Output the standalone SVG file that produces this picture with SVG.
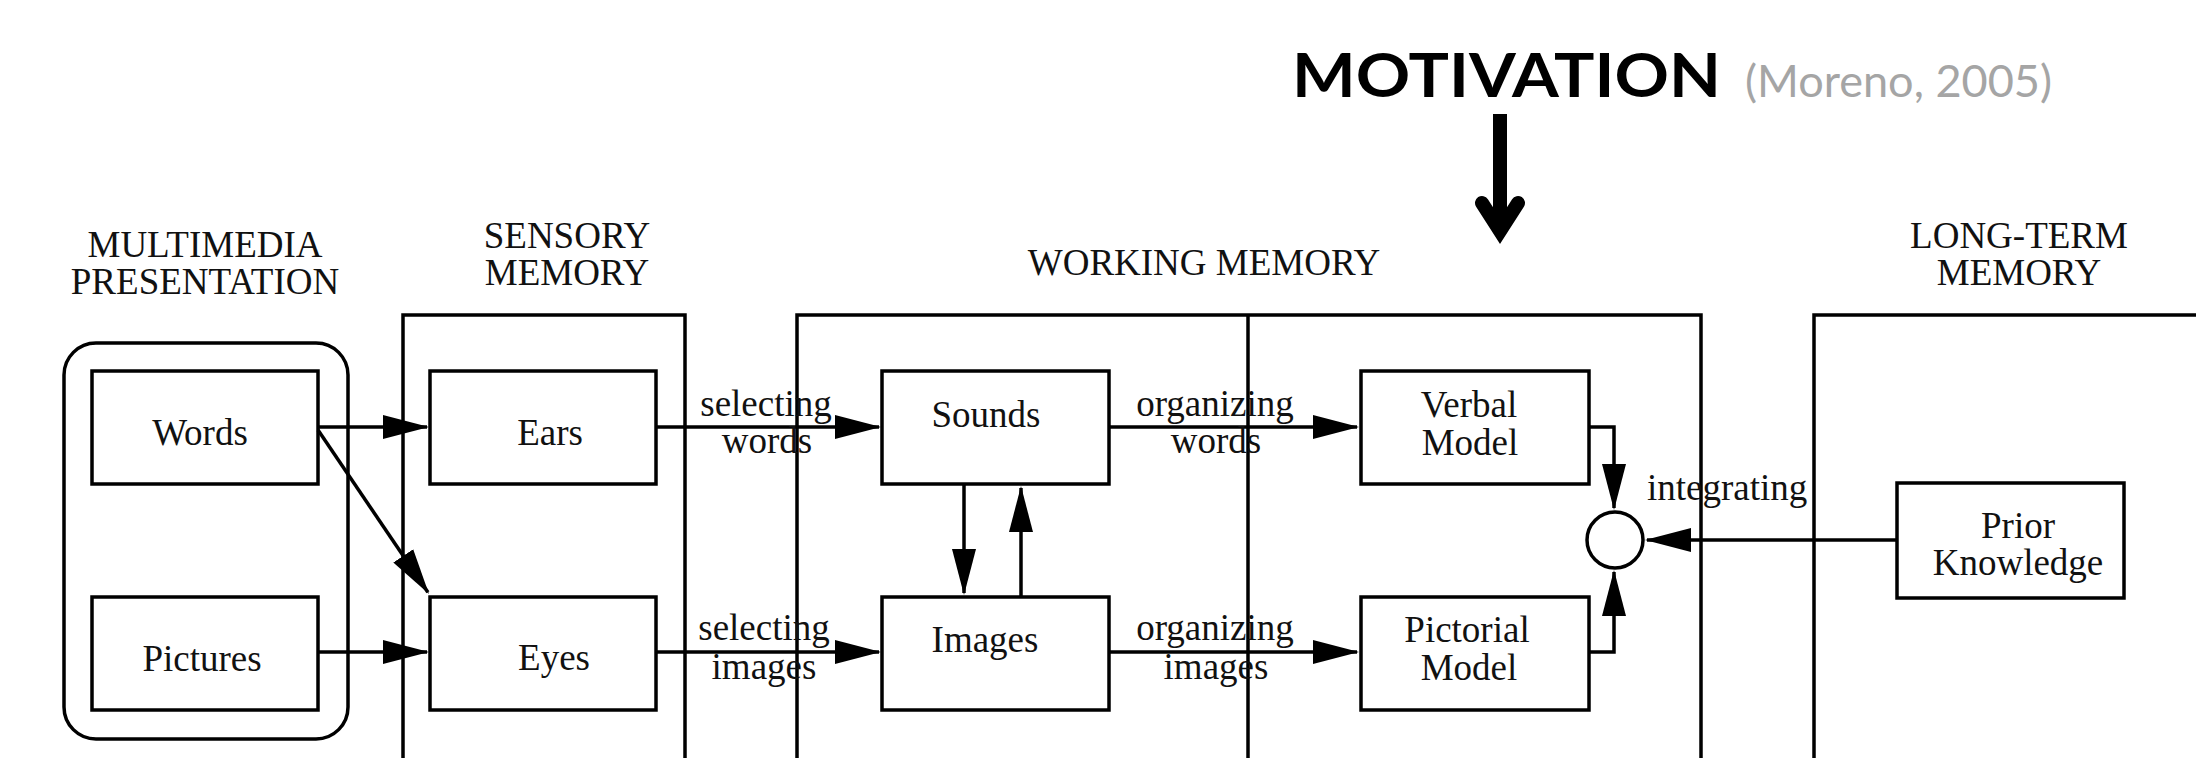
<svg xmlns="http://www.w3.org/2000/svg" width="2196" height="758" viewBox="0 0 2196 758">
  <style>
    .frame { fill: none; stroke: #000; stroke-width: 3.5; }
    .box { fill: none; stroke: #000; stroke-width: 3.5; }
    .conn { fill: none; stroke: #000; stroke-width: 3.5; }
    .lbl { font-family: "Liberation Serif", "Times New Roman", serif; font-size: 37px; fill: #111; text-anchor: middle; }
    .lbl-start { font-family: "Liberation Serif", "Times New Roman", serif; font-size: 37px; fill: #111; }
    .title { font-family: Lato, "Open Sans", "Liberation Sans", sans-serif; font-weight: 700; font-size: 61px; fill: #000; }
    .cite { font-family: Lato, "Open Sans", "Liberation Sans", sans-serif; font-size: 44px; fill: #a5a5a5; }
  </style>
  <defs>
    <marker id="ah" markerUnits="userSpaceOnUse" markerWidth="46" markerHeight="26" viewBox="0 0 46 26" refX="44" refY="13" orient="auto">
      <path d="M0,1 L46,13 L0,25 z" fill="#000"/>
    </marker>
  </defs>

  <rect width="2196" height="758" fill="#fff"/>

  <!-- motivation banner with its downward arrow -->
  <g id="motivation">
    <text class="title" x="1292" y="97" textLength="429" lengthAdjust="spacingAndGlyphs">MOTIVATION</text>
    <text class="cite" x="1745" y="97" textLength="307" lengthAdjust="spacingAndGlyphs">(Moreno, 2005)</text>
    <line x1="1500" y1="114" x2="1500" y2="232" stroke="#000" stroke-width="14"/>
    <polyline points="1482,203 1500,231 1518,203" fill="none" stroke="#000" stroke-width="14" stroke-linecap="round" stroke-linejoin="miter" stroke-miterlimit="10"/>
  </g>

  <!-- memory stores -->
  <g id="multimedia-presentation">
    <text class="lbl" x="205" y="257">MULTIMEDIA</text>
    <text class="lbl" x="205" y="294">PRESENTATION</text>
    <rect class="box" x="64" y="343" width="284" height="396" rx="32" ry="32"/>
  </g>
  <g id="sensory-memory">
    <text class="lbl" x="567" y="248">SENSORY</text>
    <text class="lbl" x="567" y="285">MEMORY</text>
    <path class="frame" d="M403,770 V315 H685 V770"/>
  </g>
  <g id="working-memory">
    <text class="lbl" x="1204" y="275">WORKING MEMORY</text>
    <path class="frame" d="M797,770 V315 H1701 V770"/>
    <path class="frame" d="M1248,315 V770"/>
  </g>
  <g id="long-term-memory">
    <text class="lbl" x="2019" y="248">LONG-TERM</text>
    <text class="lbl" x="2019" y="285">MEMORY</text>
    <path class="frame" d="M1814,770 V315 H2210"/>
  </g>

  <!-- nodes -->
  <g id="words">
    <rect class="box" x="92" y="371" width="226" height="113"/>
    <text class="lbl" x="200" y="445">Words</text>
  </g>
  <g id="pictures">
    <rect class="box" x="92" y="597" width="226" height="113"/>
    <text class="lbl" x="202" y="671">Pictures</text>
  </g>
  <g id="ears">
    <rect class="box" x="430" y="371" width="226" height="113"/>
    <text class="lbl" x="550" y="445">Ears</text>
  </g>
  <g id="eyes">
    <rect class="box" x="430" y="597" width="226" height="113"/>
    <text class="lbl" x="554" y="670">Eyes</text>
  </g>
  <g id="sounds">
    <rect class="box" x="882" y="371" width="227" height="113"/>
    <text class="lbl" x="986" y="427">Sounds</text>
  </g>
  <g id="images">
    <rect class="box" x="882" y="597" width="227" height="113"/>
    <text class="lbl" x="985" y="652">Images</text>
  </g>
  <g id="verbal-model">
    <rect class="box" x="1361" y="371" width="228" height="113"/>
    <text class="lbl" x="1469" y="417">Verbal</text>
    <text class="lbl" x="1470" y="455">Model</text>
  </g>
  <g id="pictorial-model">
    <rect class="box" x="1361" y="597" width="228" height="113"/>
    <text class="lbl" x="1467" y="642">Pictorial</text>
    <text class="lbl" x="1469" y="680">Model</text>
  </g>
  <g id="integration">
    <circle class="box" cx="1615" cy="540" r="28"/>
  </g>
  <g id="prior-knowledge">
    <rect class="box" x="1897" y="483" width="227" height="115"/>
    <text class="lbl" x="2018" y="538">Prior</text>
    <text class="lbl" x="2018" y="575">Knowledge</text>
  </g>

  <!-- connectors -->
  <g id="connectors">
    <path class="conn" d="M318,427 H427" marker-end="url(#ah)"/>
    <path class="conn" d="M318,430 L427.9,592.3" marker-end="url(#ah)"/>
    <path class="conn" d="M318,652 H427" marker-end="url(#ah)"/>
    <path class="conn" d="M656,427 H879" marker-end="url(#ah)"/>
    <path class="conn" d="M656,652 H879" marker-end="url(#ah)"/>
    <path class="conn" d="M964,484 V593" marker-end="url(#ah)"/>
    <path class="conn" d="M1021,597 V488" marker-end="url(#ah)"/>
    <path class="conn" d="M1109,427 H1357" marker-end="url(#ah)"/>
    <path class="conn" d="M1109,652 H1357" marker-end="url(#ah)"/>
    <path class="conn" d="M1589,427 H1614 V508" marker-end="url(#ah)"/>
    <path class="conn" d="M1589,652 H1614 V572" marker-end="url(#ah)"/>
    <path class="conn" d="M1897,540 H1647" marker-end="url(#ah)"/>

    <text class="lbl" x="766" y="416">selecting</text>
    <text class="lbl" x="767" y="453">words</text>
    <text class="lbl" x="764" y="640">selecting</text>
    <text class="lbl" x="764" y="679">images</text>
    <text class="lbl" x="1215" y="416">organizing</text>
    <text class="lbl" x="1216" y="453">words</text>
    <text class="lbl" x="1215" y="640">organizing</text>
    <text class="lbl" x="1216" y="679">images</text>
    <text class="lbl-start" x="1647" y="500">integrating</text>
  </g>
</svg>
